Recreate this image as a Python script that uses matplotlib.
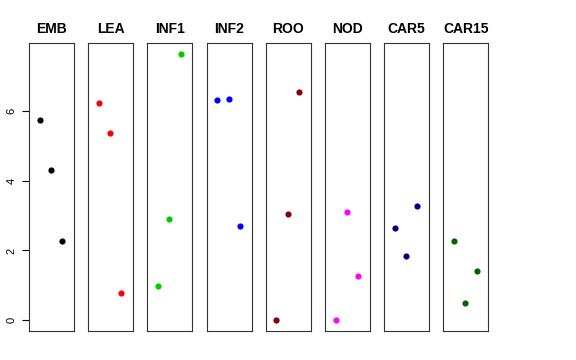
import matplotlib.pyplot as plt

plt.rcParams["font.family"] = ["Liberation Sans", "DejaVu Sans"]

groups = ["EMB", "LEA", "INF1", "INF2", "ROO", "NOD", "CAR5", "CAR15"]
colors = ["black", "red", "#00CD00", "blue", "#8B0000", "magenta", "#00008B", "#006400"]
emb = [5.74, 4.31, 2.26]
lea = [6.23, 5.37, 0.77]
inf1 = [0.97, 2.91, 7.63]
inf2 = [6.31, 6.34, 2.71]
roo = [0.0, 3.03, 6.54]
nod = [0.0, 3.09, 1.26]
car5 = [2.63, 1.83, 3.26]
car15 = [2.26, 0.49, 1.40]
values = [emb, lea, inf1, inf2, roo, nod, car5, car15]
reps = [1, 2, 3]

W, H = 576, 360
fig = plt.figure(figsize=(W / 100, H / 100), dpi=100)

ymin, ymax = 0.0, 7.63
pad = (ymax - ymin) * 0.04

for i, (name, col, vals) in enumerate(zip(groups, colors, values)):
    left = 29 + i * 59.2
    ax = fig.add_axes([left / W, 29 / H, 45 / W, 288 / H])
    ax.scatter(reps, vals, s=20, color=col, zorder=3, linewidths=0)
    ax.set_xlim(0.05, 4.05)
    ax.set_ylim(ymin - pad, ymax + pad)
    ax.set_xticks([])
    ax.set_title(name, fontsize=10, fontweight="bold", pad=7)
    for s in ax.spines.values():
        s.set_linewidth(0.8)
        s.set_color("#333333")
    if i == 0:
        ax.set_yticks([0, 2, 4, 6])
        ax.tick_params(axis="y", labelsize=8, length=5, width=0.8, pad=4)
        for t in ax.get_yticklabels():
            t.set_rotation(90)
            t.set_va("center")
    else:
        ax.set_yticks([])

plt.savefig("out.png", dpi=100)
